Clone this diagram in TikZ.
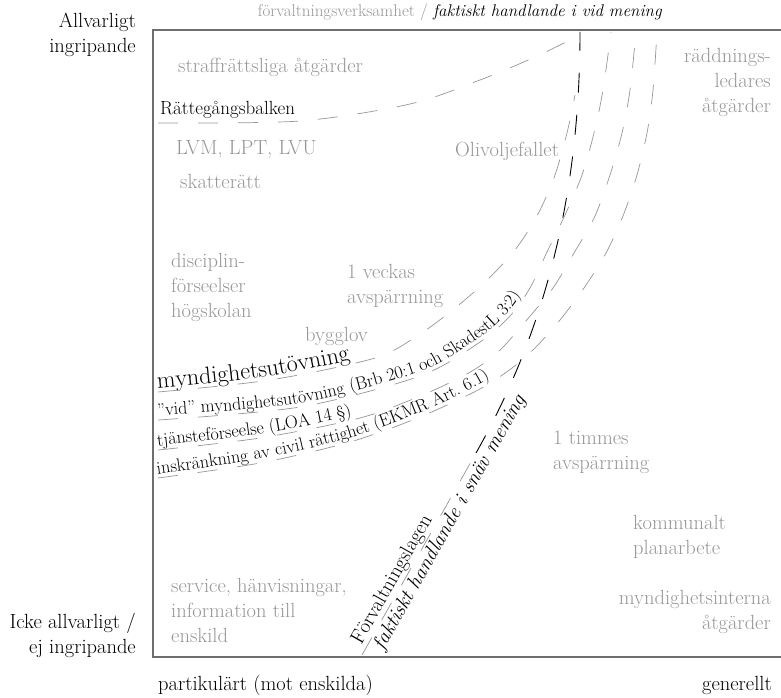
\documentclass[tikz,border=0pt]{standalone}
\usepackage{tikz}
\usetikzlibrary{positioning}
\usetikzlibrary{decorations.text}
\definecolor{labelgray}{RGB}{150,150,150}
\definecolor{framegray}{RGB}{110,110,110}
\newcommand{\bigfont}{\fontsize{20.5}{25}\selectfont}
\newcommand{\mydfont}{\fontsize{24}{28}\selectfont}
\newcommand{\smallfont}{\fontsize{18}{22}\selectfont}
\tikzset{
    gray label/.style={text=labelgray, font=\bigfont, inner sep=0pt, align=left},
    gray label right/.style={gray label, align=right},
    axis label/.style={font=\bigfont, inner sep=0pt, align=right},
    frame line/.style={draw=framegray, line width=1.4pt},
    gray dash/.style={draw=labelgray, line width=0.7pt, dash pattern=on 20pt off 20pt},
    black dash/.style={draw=black, line width=0.9pt, dash pattern=on 20pt off 22pt},
    curve text/.style={decorate, decoration={text along path, raise=4pt, text={#1}}}
}

\begin{document}
\begin{tikzpicture}[x=1pt, y=-1pt]
    \useasboundingbox (0,0) rectangle (781,698);
    \draw[frame line] (781,30) -- (153,30) -- (153,657) -- (781,657);

    % axes
    \node(heading) at (460,12) [font=\fontsize{17}{20}\selectfont, inner sep=0pt]
        {\textcolor{labelgray}{förvaltningsverksamhet /} \textit{faktiskt handlande i vid mening}};
    \node(allv) at (136,35) [axis label, anchor=east] {Allvarligt\\ingripande};
    \node(icke) at (136,635) [axis label, anchor=east] {Icke allvarligt /\\ej ingripande};
    \node(partik) at (158,685) [axis label, anchor=west] {partikulärt (mot enskilda)};
    \node(gen) at (772,685) [axis label, anchor=east] {generellt};

    % gray examples
    \node(straff) at (178,67) [gray label, anchor=west] {straffrättsliga åtgärder};
    \node(oliv) at (455,151) [gray label, anchor=west] {Olivoljefallet};
    \node(lvm) at (176,149) [gray label, anchor=west] {LVM, LPT, LVU};
    \node(skatt) at (180,181) [gray label, anchor=west] {skatterätt};
    \node(radd) at (771,82) [gray label right, anchor=east] {räddnings-\\ledares\\åtgärder};
    \node(disc) at (171,287) [gray label, anchor=west] {disciplin-\\förseelser\\högskolan};
    \node(vecka) at (347,286) [gray label, anchor=west] {1 veckas\\avspärrning};
    \node(bygg) at (305,336) [gray label, anchor=west] {bygglov};
    \node(timme) at (553,452) [gray label, anchor=west] {1 timmes\\avspärrning};
    \node(kommun) at (633,537) [gray label, anchor=west] {kommunalt\\planarbete};
    \node(service) at (171,610) [gray label, anchor=west] {service, hänvisningar,\\information till\\enskild};
    \node(internt) at (771,612) [gray label right, anchor=east] {myndighetsinterna\\åtgärder};

    % Rättegångsbalken
    \node(rb) at (160,110) [font=\fontsize{19}{22}\selectfont, inner sep=0pt, anchor=west] {Rättegångsbalken};
    \draw[gray dash] plot[smooth] coordinates {(158,123) (300,121) (410,104) (480,80) (535,57) (578,36)};

    % Förvaltningslagen
    \coordinate (fl bottom) at (362,655);
    \coordinate (fl mid) at (476,453);
    \coordinate (fl top) at (580,32);
    \draw[gray dash] (fl bottom) -- (fl mid)
        node(fl) [pos=0.03, sloped, anchor=south west, font=\bigfont, inner sep=1pt] {Förvaltningslagen}
        node(snav) [pos=0.05, sloped, anchor=north west, font=\bigfont\itshape, inner sep=2pt] {faktiskt handlande i snäv mening};
    \draw[black dash] (fl mid) .. controls (533,352) and (580,220) .. (fl top);

    % myndighetsutövning
    \draw[gray dash, postaction={curve text={|\mydfont|myndighetsutövning}}]
        plot[smooth] coordinates {(158,392) (270,380) (375,358) (420,334) (455,308) (485,282) (515,250) (538,214) (555,175) (567,133) (575,95)};
    \draw[gray dash, postaction={curve text={|\smallfont|”vid” myndighetsutövning (Brb 20:1 och SkadestL 3:2)}}]
        plot[smooth] coordinates {(158,420) (300,407) (420,376) (480,342) (510,316) (530,288) (547,252) (565,215) (582,175) (594,133) (603,90) (611,32)};
    \draw[gray dash, postaction={curve text={|\smallfont|tjänsteförseelse (LOA 14 §)}}]
        plot[smooth] coordinates {(158,450) (260,438) (360,418) (425,394) (472,371) (500,350) (525,322) (553,288) (574,253) (595,216) (610,175) (622,133) (630,90) (636,32)};
    \draw[gray dash, postaction={curve text={|\smallfont|inskränkning av civil rättighet (EKMR Art. 6.1)}}]
        plot[smooth] coordinates {(158,478) (260,463) (350,442) (420,417) (480,389) (512,368) (535,348) (560,320) (584,288) (606,253) (623,216) (637,175) (647,133) (653,90) (657,32)};
\end{tikzpicture}
\end{document}
